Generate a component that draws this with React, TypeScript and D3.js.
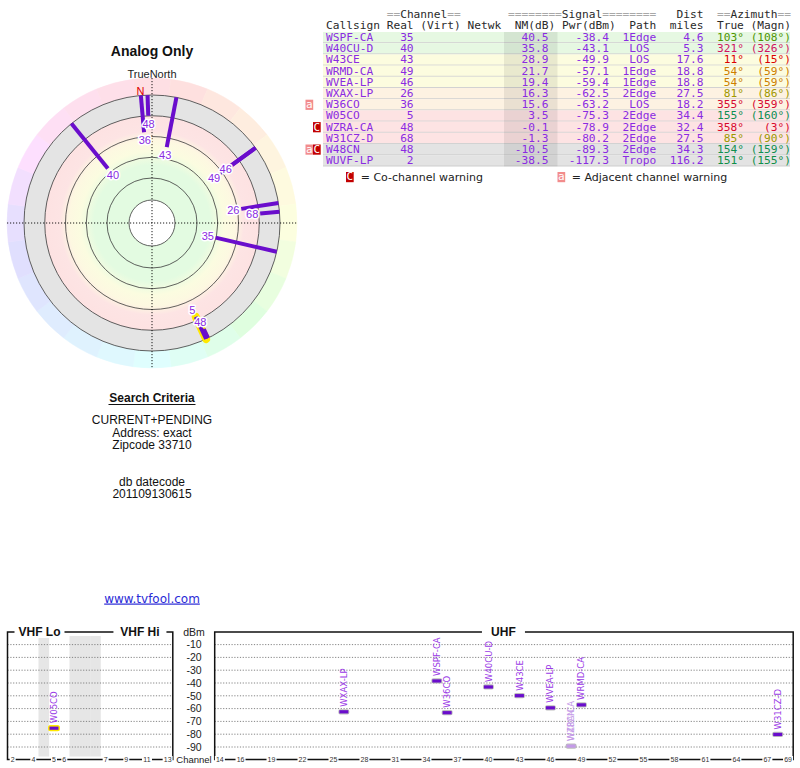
import React from "react";
import * as d3 from "d3";

// ---------------- DATA ----------------
const callsigns = ["WSPF-CA", "W40CU-D", "W43CE", "WRMD-CA", "WVEA-LP", "WXAX-LP", "W36CO", "W05CO", "WZRA-CA", "W31CZ-D", "W48CN", "WUVF-LP"];
const realCh = [35, 40, 43, 49, 46, 26, 36, 5, 48, 68, 48, 2];
const nmDb = [40.5, 35.8, 28.9, 21.7, 19.4, 16.3, 15.6, 3.5, -0.1, -1.3, -10.5, -38.5];
const pwrDbm = [-38.4, -43.1, -49.9, -57.1, -59.4, -62.5, -63.2, -75.3, -78.9, -80.2, -89.3, -117.3];
const paths = ["1Edge", "LOS", "LOS", "1Edge", "1Edge", "2Edge", "LOS", "2Edge", "2Edge", "2Edge", "2Edge", "Tropo"];
const distMi = [4.6, 5.3, 17.6, 18.8, 18.8, 27.5, 18.2, 34.4, 32.4, 27.5, 34.3, 116.2];
const azTrue = [103, 321, 11, 54, 54, 81, 355, 155, 358, 85, 154, 151];
const azMagn = [108, 326, 15, 59, 59, 86, 359, 160, 3, 90, 159, 155];
const warnings = ["", "", "", "", "", "", "a", "", "C", "", "aC", ""];
const analogHighlight = [false, false, false, false, false, false, false, true, false, false, false, false];
const dimmedInSpectrum = [false, false, false, false, false, false, false, false, true, false, true, false];
const barShown = [true, true, true, true, true, true, true, true, false, true, true, true];

const ringNM = [60, 40, 20, 0, -20];
const dbmTicks = [-10, -20, -30, -40, -50, -60, -70, -80, -90];
const vhfTicks = ["2", "4", "5", "6", "7", "9", "11", "13"];
const uhfTicks = [14, 16, 19, 22, 25, 28, 31, 34, 37, 40, 43, 46, 49, 52, 55, 58, 61, 64, 67, 69];
const vhfSlots = ["2", "3", "4", "g1", "5", "6", "g2", "g3", "g4", "7", "8", "9", "10", "11", "12", "13"];
const gapSlots = ["g1", "g2", "g3", "g4"];
const searchLines = ["CURRENT+PENDING", "Address: exact", "Zipcode 33710"];
const dbLines = ["db datecode", "201109130615"];

// ---------------- STYLE ----------------
const SANS = "'Liberation Sans', Arial, sans-serif";
const MONO = "'DejaVu Sans Mono', monospace";
const VERD = "'DejaVu Sans', Verdana, sans-serif";
const PURPLE_TEXT = "#8a2be2";
const PURPLE_LINE = "#6a0dcc";
const rad = Math.PI / 180;

// polar geometry
const cx = 152, cy = 223;
const rScale = d3.scaleLinear().domain([60, -20]).range([45, 128]);
const R_IN = 23, R_RING = 128, R_OUT = 145;
const hueScale = d3.scaleLinear()
  .domain([0, 45, 85, 105, 155, 180, 225, 270, 320, 360])
  .range([-10, 30, 60, 92, 152, 180, 215, 255, 335, 350]);
const hueOf = (az: number) => ((hueScale(az) % 360) + 360) % 360;
const ringHue = d3.scaleLinear().domain([0, 45, 90, 135, 180, 225, 270, 315, 360]).range([-10, 28, 65, 120, 180, 215, 255, 320, 350]);
const ringHueOf = (az: number) => ((ringHue(az) % 360) + 360) % 360;
const lightOfHue = d3.scaleLinear().domain([0, 35, 60, 100, 160, 300, 360]).range([0.43, 0.41, 0.3, 0.3, 0.31, 0.47, 0.43]);
const satOfHue = d3.scaleLinear().domain([0, 60, 160, 300, 360]).range([1, 1, 0.8, 0.6, 1]);
const azColor = (az: number) => {
  const h = hueOf(az);
  return d3.hsl(h, satOfHue(h), lightOfHue(h)).formatHex();
};
const polar = (az: number, r: number) => [cx + r * Math.sin(az * rad), cy - r * Math.cos(az * rad)];

// table geometry
const colX = d3.scaleLinear().domain([0, 69]).range([326, 326 + 69 * 6.74]);
const rowBand = d3.scaleBand().domain(callsigns).range([32, 32 + 12 * 11.2]);
const rowColor = d3.scaleThreshold<number, string>().domain([-5, 10, 17, 30]).range(["#e3e3e3", "#fde3e3", "#fdf2e2", "#fcfcdf", "#e6f8e2"]);

// spectrum geometry
const ySpec = d3.scaleLinear().domain([0, -100]).range([631.8, 759.8]);
const vhfX = d3.scaleBand().domain(vhfSlots).range([7.5, 172.8]);
const uhfX = d3.scaleBand().domain(d3.range(14, 70).map(String)).range([214.7, 793.2]);
const bw = vhfX.bandwidth();
const chX = (ch: number) => (ch <= 13 ? (vhfX(String(ch)) as number) : (uhfX(String(ch)) as number)) + bw / 2;
const AXIS_Y = 759.5;
const TOP_Y = 632;

function Polar() {
  const arcGen = d3.arc();
  const wedges = d3.range(0, 360, 15);
  const stations = callsigns.map((c, i) => i).filter((i) => nmDb[i] >= -20);
  const decl = azMagn[0] - azTrue[0];
  const nPos = polar(360 - decl, 132);
  // label placement with simple collision avoidance (push outward)
  const placed: number[][] = [];
  const labelPos: Record<number, number[]> = {};
  stations.forEach((i) => {
    let r = rScale(nmDb[i]) - 8;
    let p = polar(azTrue[i], r);
    let guard = 0;
    while (placed.some((q) => Math.hypot(q[0] - p[0], q[1] - p[1]) < 11) && guard < 5) {
      r += 12;
      p = polar(azTrue[i], r);
      guard++;
    }
    placed.push(p);
    labelPos[i] = p;
  });
  return (
    <g>
      <defs>
        <radialGradient id="sig" gradientUnits="userSpaceOnUse" cx={cx} cy={cy} r={R_RING}>
          <stop offset={0} stopColor="#e3fbe1" />
          <stop offset={58 / 128} stopColor="#e3fbe1" />
          <stop offset={72 / 128} stopColor="#fbfce0" />
          <stop offset={83 / 128} stopColor="#fdf8e1" />
          <stop offset={92 / 128} stopColor="#fde4e4" />
          <stop offset={106.8 / 128} stopColor="#fde2e2" />
          <stop offset={107.3 / 128} stopColor="#e4e4e4" />
          <stop offset={1} stopColor="#e4e4e4" />
        </radialGradient>
      </defs>
      <text x={cx} y={56} textAnchor="middle" fontFamily={SANS} fontWeight="bold" fontSize={14} fill="#111">Analog Only</text>
      <text x={cx} y={78} textAnchor="middle" fontFamily={SANS} fontSize={11} fill="#222">TrueNorth</text>
      {wedges.map((a) => (
        <path
          key={a}
          transform={`translate(${cx},${cy})`}
          d={arcGen({ innerRadius: R_RING, outerRadius: R_OUT, startAngle: (a - 7.5) * rad, endAngle: (a + 7.5) * rad } as any) as string}
          fill={d3.hsl(ringHueOf(a), 0.95, 0.935).formatHex()}
          stroke={d3.hsl(ringHueOf(a), 0.95, 0.935).formatHex()}
          strokeWidth={0.5}
        />
      ))}
      <circle cx={cx} cy={cy} r={R_RING} fill="url(#sig)" />
      {ringNM.map((nm) => (
        <circle key={nm} cx={cx} cy={cy} r={rScale(nm)} fill="none" stroke="#3a3a3a" strokeWidth={0.8} />
      ))}
      <circle cx={cx} cy={cy} r={R_IN} fill="#fff" stroke="#3a3a3a" strokeWidth={0.8} />
      <line x1={cx - R_OUT} x2={cx + R_OUT} y1={cy} y2={cy} stroke="#000" strokeWidth={0.9} strokeDasharray="1.2,1.8" />
      <line x1={cx} x2={cx} y1={cy - R_OUT} y2={cy + R_OUT} stroke="#000" strokeWidth={0.9} strokeDasharray="1.2,1.8" />
      {stations.filter((i) => analogHighlight[i]).map((i) => {
        const [x1, y1] = polar(azTrue[i], rScale(nmDb[i]));
        const [x2, y2] = polar(azTrue[i], R_RING);
        return <line key={"h" + i} x1={x1} y1={y1} x2={x2} y2={y2} stroke="#ffe800" strokeWidth={8} strokeLinecap="round" />;
      })}
      {stations.map((i) => {
        const [x1, y1] = polar(azTrue[i], rScale(nmDb[i]));
        const [x2, y2] = polar(azTrue[i], R_RING);
        return <line key={"l" + i} x1={x1} y1={y1} x2={x2} y2={y2} stroke={PURPLE_LINE} strokeWidth={4} />;
      })}
      {stations.map((i) => {
        const [x, y] = labelPos[i];
        return (
          <text key={"t" + i} x={x} y={y} dy="0.36em" textAnchor="middle" fontFamily={SANS} fontSize={11}
            fill={PURPLE_TEXT} stroke="#fff" strokeWidth={3} strokeLinejoin="round" style={{ paintOrder: "stroke" }}>
            {realCh[i]}
          </text>
        );
      })}
      <text x={nPos[0]} y={nPos[1]} dy="0.36em" textAnchor="middle" fontFamily={SANS} fontSize={11} fill="#dd0000">N</text>
    </g>
  );
}

function Table() {
  const hdrY1 = 18.3, hdrY2 = 29;
  const grey = "#a8a8a8", dark = "#2a2a2a";
  const fs = 11.2;
  const rowTop = (i: number) => rowBand(callsigns[i]) as number;
  const rh = rowBand.bandwidth();
  const hdr1: [number, [string, string][]][] = [
    [9, [["==", grey], ["Channel", dark], ["==", grey]]],
    [27, [["========", grey], ["Signal", dark], ["========", grey]]],
    [52, [["Dist", dark]]],
    [58, [["==", grey], ["Azimuth", dark], ["==", grey]]],
  ];
  const hdr2: [number, string][] = [
    [0, "Callsign"], [9, "Real"], [14, "(Virt)"], [21, "Netwk"], [28, "NM(dB)"],
    [35, "Pwr(dBm)"], [45, "Path"], [51, "miles"], [58, "True"], [63, "(Magn)"],
  ];
  return (
    <g>
      {hdr1.map(([c, parts]) => (
        <text key={"h" + c} x={colX(c)} y={hdrY1} fontFamily={MONO} fontSize={fs} style={{ whiteSpace: "pre" }}>
          {parts.map(([s, col], k) => <tspan key={k} fill={col}>{s}</tspan>)}
        </text>
      ))}
      {hdr2.map(([c, s]) => (
        <text key={"k" + c} x={colX(c)} y={hdrY2} fontFamily={MONO} fontSize={fs} fill={dark}>{s}</text>
      ))}
      {callsigns.map((c, i) => (
        <g key={c}>
          <rect x={323} y={rowTop(i)} width={467} height={rh} fill={rowColor(nmDb[i])} />
          <line x1={323} x2={790} y1={rowTop(i) + rh - 0.5} y2={rowTop(i) + rh - 0.5} stroke="#d2d2d2" strokeWidth={1} />
        </g>
      ))}
      <rect x={504} y={rowTop(0)} width={53.5} height={rh * 12} fill="#000" fillOpacity={0.075} />
      {callsigns.map((c, i) => {
        const y = rowTop(i) + 9;
        const col = azColor(azTrue[i]);
        return (
          <g key={"r" + c} fontFamily={MONO} fontSize={fs} fill={PURPLE_TEXT}>
            <text x={colX(0)} y={y}>{c}</text>
            <text x={colX(13)} y={y} textAnchor="end">{realCh[i]}</text>
            <text x={colX(33)} y={y} textAnchor="end">{nmDb[i].toFixed(1)}</text>
            <text x={colX(42)} y={y} textAnchor="end">{pwrDbm[i].toFixed(1)}</text>
            <text x={colX(46.5)} y={y} textAnchor="middle">{paths[i]}</text>
            <text x={colX(56)} y={y} textAnchor="end">{distMi[i].toFixed(1)}</text>
            <text x={colX(62)} y={y} textAnchor="end" fill={col}>{azTrue[i] + "°"}</text>
            <text x={colX(69)} y={y} textAnchor="end" fill={col}>{"(" + azMagn[i] + "°)"}</text>
          </g>
        );
      })}
      {callsigns.map((c, i) => {
        const w = warnings[i];
        const top = rowTop(i) + 0.5;
        return (
          <g key={"w" + c}>
            {w.includes("a") && <WarnIcon x={305.5} y={top} kind="a" />}
            {w.includes("C") && <WarnIcon x={313} y={top} kind="C" />}
          </g>
        );
      })}
      <WarnIcon x={346} y={172} kind="C" />
      <text x={360.7} y={181} fontFamily={VERD} fontSize={11} fill="#222">= Co-channel warning</text>
      <WarnIcon x={557.5} y={172} kind="a" />
      <text x={571.7} y={181} fontFamily={VERD} fontSize={11} fill="#222">= Adjacent channel warning</text>
    </g>
  );
}

function WarnIcon({ x, y, kind }: { x: number; y: number; kind: string }) {
  return (
    <g>
      <rect x={x} y={y} width={7.7} height={10.2} fill={kind === "C" ? "#c20000" : "#f28c8c"} />
      <text x={x + 3.85} y={y + 8.4} textAnchor="middle" fontFamily={MONO} fontSize={11} fill="#fff">{kind}</text>
    </g>
  );
}

function Criteria() {
  return (
    <g fontFamily={SANS} fill="#111" textAnchor="middle">
      <text x={152} y={401.5} fontWeight="bold" fontSize={12}>Search Criteria</text>
      <line x1={108.5} x2={195.5} y1={404.5} y2={404.5} stroke="#111" strokeWidth={1} />
      {searchLines.map((s, i) => (
        <text key={s} x={152} y={424.3 + i * 12.2} fontSize={12}>{s}</text>
      ))}
      {dbLines.map((s, i) => (
        <text key={s} x={152} y={486 + i * 11.7} fontSize={12}>{s}</text>
      ))}
      <text x={152} y={602.5} fontFamily={VERD} fontSize={12} fill="#2a2ad6" textDecoration="underline">www.tvfool.com</text>
    </g>
  );
}

function Spectrum() {
  const vL = 7.5, vR = 172.8, uL = 214.7, uR = 793.2;
  const titles = [
    { t: "VHF Lo", x: ((vhfX("2") as number) + (vhfX("6") as number) + bw) / 2 + 1, w: 50 },
    { t: "VHF Hi", x: ((vhfX("7") as number) + (vhfX("13") as number) + bw) / 2 + 3.3, w: 53 },
    { t: "UHF", x: (uL + uR) / 2 - 0.5, w: 43 },
  ];
  const shown = callsigns.map((c, i) => i).filter((i) => pwrDbm[i] >= -100);
  const anchorY = (ch: number) => {
    const ps = shown.filter((j) => realCh[j] === ch && barShown[j]).map((j) => pwrDbm[j]);
    return ySpec(d3.min(ps) as number);
  };
  const tickLabel = (x: number, s: string, key: string) => {
    const w = s.length * 4 + 2;
    return (
      <g key={key}>
        <rect x={x - w / 2} y={AXIS_Y - 3.5} width={w} height={7} fill="#fff" />
        <text x={x} y={AXIS_Y} dy="0.35em" textAnchor="middle" fontFamily={SANS} fontSize={7} fill="#333">{s}</text>
      </g>
    );
  };
  return (
    <g>
      {gapSlots.map((g) => (
        <rect key={g} x={vhfX(g) as number} y={TOP_Y + 4} width={bw + 0.3} height={AXIS_Y - TOP_Y - 7} fill="#e6e6e6" />
      ))}
      {dbmTicks.map((d) => (
        <g key={d}>
          <line x1={vL} x2={vR} y1={ySpec(d)} y2={ySpec(d)} stroke="#777" strokeWidth={0.9} strokeDasharray="1.2,1.6" />
          <line x1={uL} x2={uR} y1={ySpec(d)} y2={ySpec(d)} stroke="#777" strokeWidth={0.9} strokeDasharray="1.2,1.6" />
          <text x={194} y={ySpec(d)} dy="0.36em" textAnchor="middle" fontFamily={SANS} fontSize={10.5} fill="#222">{d}</text>
        </g>
      ))}
      <text x={194} y={TOP_Y} dy="0.36em" textAnchor="middle" fontFamily={SANS} fontSize={10.5} fill="#222">dBm</text>
      <path d={`M${vL},${AXIS_Y} V${TOP_Y} H${vR} V${AXIS_Y} Z`} fill="none" stroke="#111" strokeWidth={1.5} />
      <path d={`M${uL},${AXIS_Y} V${TOP_Y} H${uR} V${AXIS_Y} Z`} fill="none" stroke="#111" strokeWidth={1.5} />
      {titles.map((t) => (
        <g key={t.t}>
          <rect x={t.x - t.w / 2} y={TOP_Y - 6} width={t.w} height={12} fill="#fff" />
          <text x={t.x} y={TOP_Y} dy="0.36em" textAnchor="middle" fontFamily={SANS} fontWeight="bold" fontSize={12} fill="#111">{t.t}</text>
        </g>
      ))}
      {vhfTicks.map((s) => tickLabel((vhfX(s) as number) + bw / 2, s, "v" + s))}
      {uhfTicks.map((c) => tickLabel(chX(c), String(c), "u" + c))}
      <rect x={176} y={AXIS_Y - 5} width={36} height={10} fill="#fff" />
      <text x={194} y={AXIS_Y} dy="0.36em" textAnchor="middle" fontFamily={SANS} fontSize={9.5} fill="#222">Channel</text>
      {shown.filter((i) => barShown[i]).map((i) => {
        const x = chX(realCh[i]);
        const y = ySpec(pwrDbm[i]);
        const fill = dimmedInSpectrum[i] ? "#c49ae8" : PURPLE_LINE;
        return (
          <g key={"b" + i}>
            <rect x={x - 4.5} y={y - 1.6} width={9} height={3.2} rx={1} fill={fill}
              stroke={analogHighlight[i] ? "#ffe800" : "#bdbdbd"} strokeWidth={analogHighlight[i] ? 3 : 2} />
            <rect x={x - 4.5} y={y - 1.6} width={9} height={3.2} fill={fill} />
          </g>
        );
      })}
      {shown.map((i) => {
        const x = chX(realCh[i]);
        const y = anchorY(realCh[i]) - 5;
        return (
          <text key={"s" + i} transform={`translate(${x},${y}) rotate(-90)`} dy="0.36em" fontFamily={VERD} fontSize={8.5}
            fill={dimmedInSpectrum[i] ? "#c49ae8" : "#9a3ae6"}>
            {callsigns[i]}
          </text>
        );
      })}
    </g>
  );
}

export default function App() {
  return (
    <svg width={800} height={768} viewBox="0 0 800 768" style={{ position: "absolute", left: 0, top: 0, background: "#fff" }}>
      <rect width={800} height={768} fill="#fff" />
      <Polar />
      <Table />
      <Criteria />
      <Spectrum />
    </svg>
  );
}
